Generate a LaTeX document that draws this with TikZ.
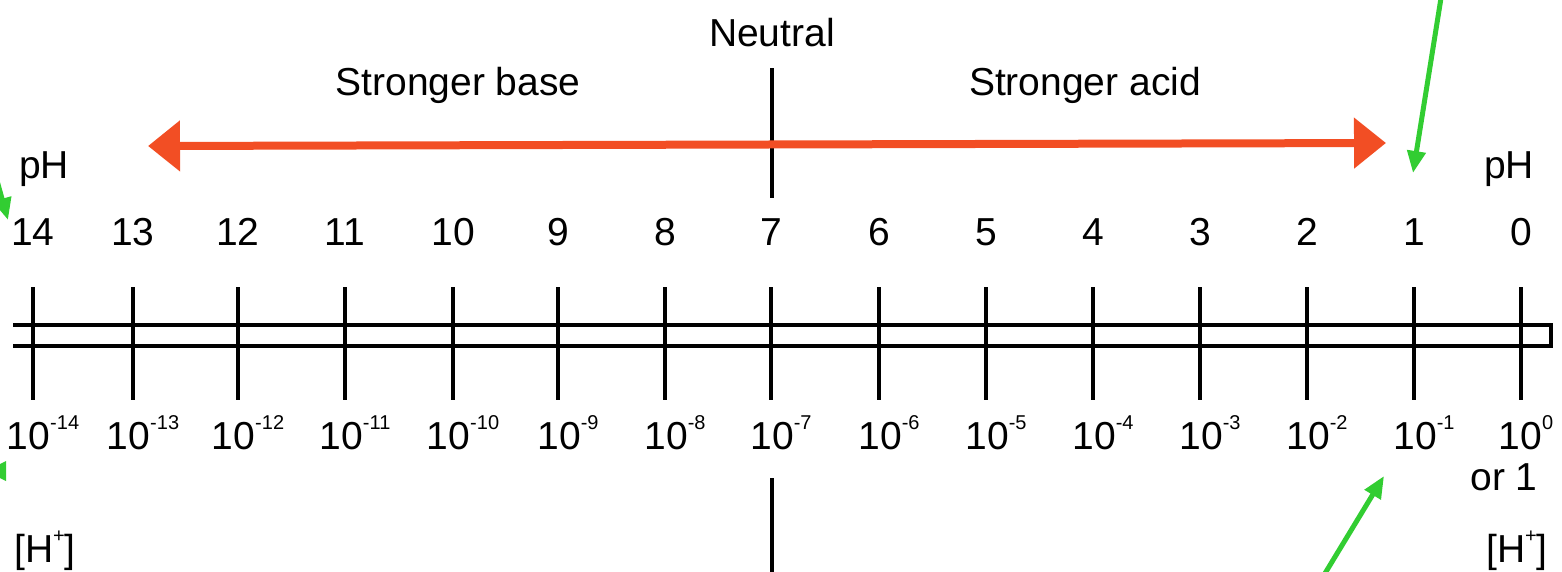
\documentclass[tikz,border=0pt]{standalone}
\usepackage{fontspec}
\setmainfont{Liberation Sans}
\usetikzlibrary{arrows.meta}
\definecolor{arrowred}{RGB}{242,78,36}
\definecolor{pointgreen}{RGB}{50,205,50}
\newcommand{\supx}[1]{\raisebox{0.5em}{\fontsize{20}{20}\selectfont #1}}
\begin{document}
\begin{tikzpicture}[x=1pt,y=-1pt,
  lbl/.style={font=\fontsize{39}{44}\selectfont, inner sep=0pt, anchor=base},
  tickline/.style={line width=4.5pt, draw=black},
  barline/.style={line width=4pt, draw=black},
  redarrow/.style={line width=8pt, draw=arrowred, {Triangle[length=32pt,width=49pt]}-{Triangle[length=32pt,width=49pt]}},
  greenarrow/.style={line width=5pt, draw=pointgreen, -{Triangle[length=22pt,width=18pt]}}]
\useasboundingbox (0,0) rectangle (1562,571);
\clip (0,0) rectangle (1562,571);
% titles
\node[lbl] (neutral) at (772,46) {Neutral};
\node[lbl] (base) at (458,95) {Stronger base};
\node[lbl] (acid) at (1085,95) {Stronger acid};
\node[lbl, anchor=base west] (phL) at (19,178) {pH};
\node[lbl, anchor=base west] (phR) at (1484,178) {pH};
% neutral line and red arrow
\coordinate (nTop) at (772,68);
\coordinate (nBot) at (772,198);
\draw[tickline] (nTop) -- (nBot);
\coordinate (tipBase) at (148,146);
\coordinate (tipAcid) at (1386,143);
\draw[redarrow] (tipBase) -- (tipAcid);
% bar
\coordinate (barTL) at (13,325);
\coordinate (barTR) at (1551,325);
\coordinate (barBR) at (1551,346);
\coordinate (barBL) at (13,346);
\draw[barline] (barTL) -- (barTR) -- (barBR) -- (barBL);
% ticks and labels
\foreach \p/\xx in {14/33,13/133,12/238,11/345,10/453,9/558,8/665,7/771,6/879,5/986,4/1093,3/1200,2/1307,1/1414,0/1521}{
  \coordinate (t\p top) at (\xx,287);
  \coordinate (t\p bot) at (\xx,400);
  \draw[tickline] (t\p top) -- (t\p bot);
  \node[lbl] (ph\p) at (\xx,245) {\p};
  \ifnum\p=0
    \node[lbl] (h\p) at (\xx+5,449) {10\supx{0}};
  \else
    \node[lbl] (h\p) at (\xx+10,449) {10\supx{-\p}};
  \fi
}
\node[lbl] (or1) at (1504,490) {or 1};
\node[lbl, anchor=base west] (hL) at (14,562) {[H\supx{+}]};
\node[lbl, anchor=base west] (hR) at (1486,562) {[H\supx{+}]};
% neutral lower line
\coordinate (n2Top) at (772,478);
\coordinate (n2Bot) at (772,575);
\draw[tickline] (n2Top) -- (n2Bot);
% green pointers
\coordinate (g1s) at (1441,-2);
\coordinate (g1e) at (1413,173);
\draw[greenarrow] (g1s) -- (g1e);
\coordinate (g2s) at (1324,575);
\coordinate (g2e) at (1384,476);
\draw[greenarrow] (g2s) -- (g2e);
\coordinate (g3s) at (-6,170);
\coordinate (g3e) at (8,220);
\draw[greenarrow] (g3s) -- (g3e);
\fill[pointgreen] (6,461) -- (6,481) -- (-14,471) -- cycle;
\end{tikzpicture}
\end{document}
